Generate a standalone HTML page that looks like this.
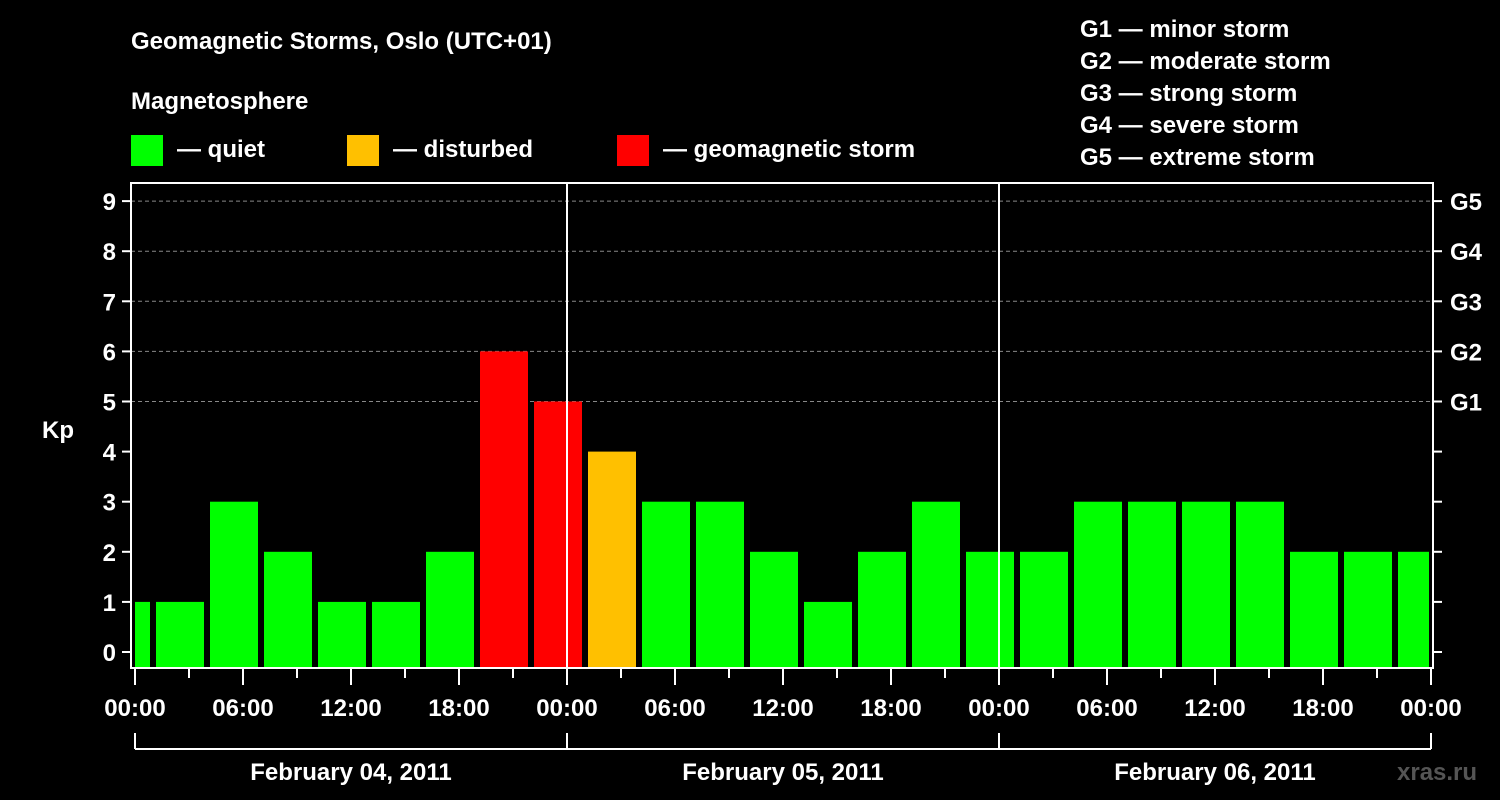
<!DOCTYPE html>
<html><head><meta charset="utf-8"><style>
html,body{margin:0;padding:0;background:#000;}
svg{display:block;font-family:"Liberation Sans",Arial,sans-serif;font-weight:bold;}
</style></head><body>
<svg id="chart" width="1500" height="800" viewBox="0 0 1500 800">
<rect x="0" y="0" width="1500" height="800" fill="#000"/>
<text x="131" y="49" fill="#fff" font-size="24">Geomagnetic Storms, Oslo (UTC+01)</text>
<text x="131" y="109" fill="#fff" font-size="24">Magnetosphere</text>
<g><rect x="131" y="135" width="32" height="31" fill="#00ff00"/><text x="177" y="157" fill="#fff" font-size="24">— quiet</text></g>
<g><rect x="347" y="135" width="32" height="31" fill="#ffc000"/><text x="393" y="157" fill="#fff" font-size="24">— disturbed</text></g>
<g><rect x="617" y="135" width="32" height="31" fill="#ff0000"/><text x="663" y="157" fill="#fff" font-size="24">— geomagnetic storm</text></g>
<g fill="#fff" font-size="24">
<text x="1080" y="37">G1 — minor storm</text>
<text x="1080" y="69">G2 — moderate storm</text>
<text x="1080" y="101">G3 — strong storm</text>
<text x="1080" y="133">G4 — severe storm</text>
<text x="1080" y="165">G5 — extreme storm</text>
</g>
<text x="42" y="438" fill="#fff" font-size="24">Kp</text>
<g id="grid"></g>
<g id="bars"></g>
<g id="axes"></g>
<text x="1397" y="780" fill="#555" font-size="24">xras.ru</text>
</svg>
<script>
const kpValues = [1,1,3,2,1,1,2,6,5,4,3,3,2,1,2,3,2,2,3,3,3,3,2,2,2];
const yTicks = [0,1,2,3,4,5,6,7,8,9];
const gLabels = ["G1","G2","G3","G4","G5"];
const timeLabels = ["00:00","06:00","12:00","18:00","00:00","06:00","12:00","18:00","00:00","06:00","12:00","18:00","00:00"];
const dayLabels = ["February 04, 2011","February 05, 2011","February 06, 2011"];
const firstBarStartHour = -2; // bars 3h, UTC+1 offset

const NS="http://www.w3.org/2000/svg";
const X0=135, HPX=18, PL=131, PR=1433, PT=183, PB=668;
const xs=h=>X0+h*HPX;
const ys=v=>652-v*50.1;
function mk(tag,attrs,parent,text){const e=document.createElementNS(NS,tag);for(const k in attrs)e.setAttribute(k,attrs[k]);if(text!==undefined)e.textContent=text;parent.appendChild(e);return e;}
const grid=document.getElementById('grid'), bars=document.getElementById('bars'), axes=document.getElementById('axes');
// grid
yTicks.forEach(v=>{ if(v>=5){const l=mk('line',{x1:PL,x2:PR,y1:ys(v),y2:ys(v),stroke:'#888','stroke-width':1,'stroke-dasharray':'4,3'},grid);

}});
// bars
kpValues.forEach((v,i)=>{
  let h0=firstBarStartHour+i*3, h1=h0+3;
  let x1=Math.max(xs(h0)+3,PL+4), x2=Math.min(xs(h1)-3,PR-4);
  const c=v>=5?'#ff0000':(v>=4?'#ffc000':'#00ff00');
  const r=mk('rect',{x:x1,y:ys(v),width:x2-x1,height:PB-1-ys(v),fill:c},bars);
  
  
});
// frame
const fr=mk('rect',{x:PL,y:PT,width:PR-PL,height:PB-PT,fill:'none',stroke:'#fff','stroke-width':2},axes);


// day dividers
[1,2].forEach(d=>{const l=mk('line',{x1:xs(d*24),x2:xs(d*24),y1:PT,y2:PB,stroke:'#fff','stroke-width':2},axes);

});
// y ticks
yTicks.forEach(v=>{
  mk('line',{x1:122,x2:PL,y1:ys(v),y2:ys(v),stroke:'#fff','stroke-width':2},axes);
  mk('line',{x1:PR,x2:1442,y1:ys(v),y2:ys(v),stroke:'#fff','stroke-width':2},axes);
  const t=mk('text',{x:116,y:ys(v)+9,fill:'#fff','font-size':24,'text-anchor':'end'},axes,String(v));
  
  
  if(v>=5){const g=mk('text',{x:1450,y:ys(v)+9,fill:'#fff','font-size':24},axes,gLabels[v-5]);
  
  }
});
// x ticks
for(let h=0;h<=72;h+=3){mk('line',{x1:xs(h),x2:xs(h),y1:PB,y2:h%6===0?685:678,stroke:'#fff','stroke-width':2},axes);}
timeLabels.forEach((s,i)=>{const t=mk('text',{x:xs(i*6),y:716,fill:'#fff','font-size':24,'text-anchor':'middle'},axes,s);

});
// day bracket
mk('line',{x1:xs(0),x2:xs(72),y1:749,y2:749,stroke:'#fff','stroke-width':2},axes);
for(let d=0;d<=3;d++)mk('line',{x1:xs(d*24),x2:xs(d*24),y1:733,y2:749,stroke:'#fff','stroke-width':2},axes);
dayLabels.forEach((s,i)=>{const t=mk('text',{x:xs(i*24+12),y:780,fill:'#fff','font-size':24,'text-anchor':'middle'},axes,s);

});
</script>
</body></html>
